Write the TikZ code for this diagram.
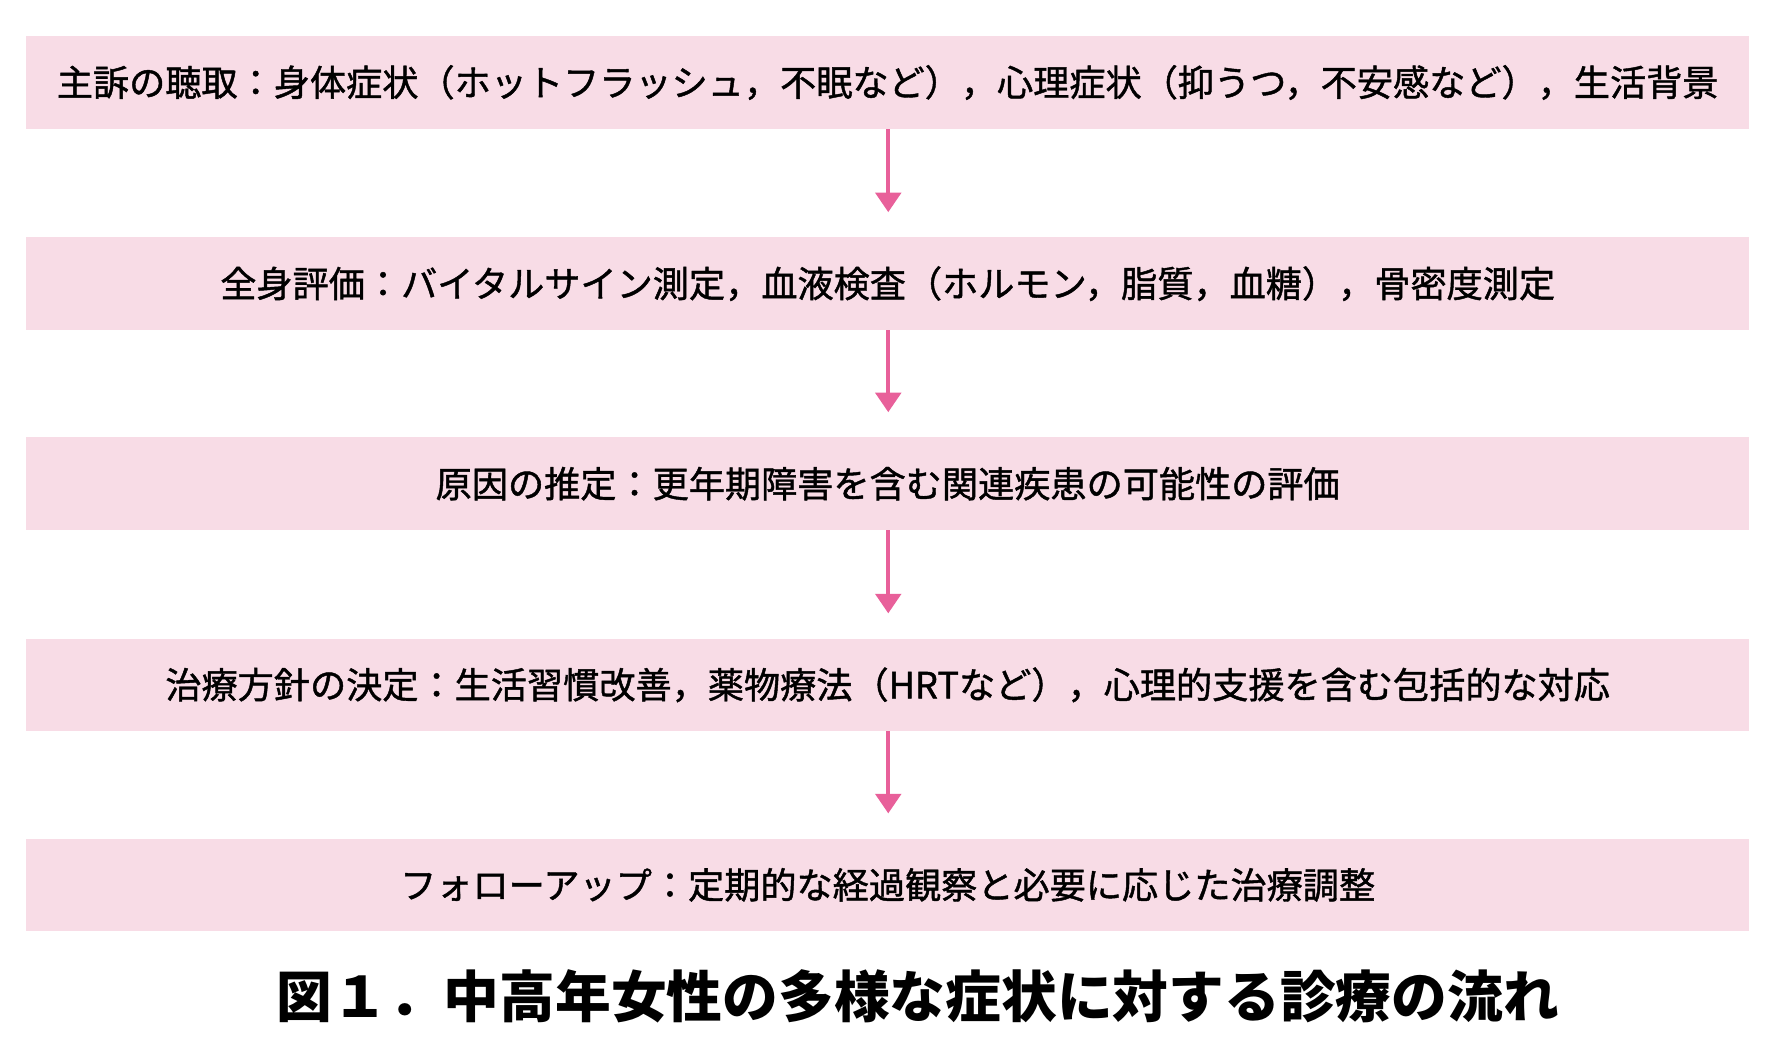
\documentclass[tikz,border=0pt]{standalone}
\usepackage{fontspec}
\setmainfont{Noto Sans CJK JP}
\newfontfamily\medfont[FakeBold=1.2]{Noto Sans CJK JP}
\begin{document}
\begin{tikzpicture}[x=0.75pt,y=-0.75pt,
 box/.style={fill=boxpink,minimum width=1525*0.75pt,minimum height=82*0.75pt,inner sep=0pt,font=\medfont\fontsize{24}{28}\selectfont},
 arr/.style={draw=arrpink,line width=2.5pt,-{Triangle[length=13pt,width=17pt]}}]
\usetikzlibrary{arrows.meta}
\definecolor{boxpink}{HTML}{F8DCE6}
\definecolor{arrpink}{HTML}{E8609A}
\useasboundingbox (0,0) rectangle (1568,940);
\node[box] (a) at (785.5,73) {主訴の聴取：身体症状（ホットフラッシュ，不眠など），心理症状（抑うつ，不安感など），生活背景};
\node[box] (b) at (785.5,251) {全身評価：バイタルサイン測定，血液検査（ホルモン，脂質，血糖），骨密度測定};
\node[box] (c) at (785.5,428) {原因の推定：更年期障害を含む関連疾患の可能性の評価};
\node[box] (d) at (785.5,606) {治療方針の決定：生活習慣改善，薬物療法（HRTなど），心理的支援を含む包括的な対応};
\node[box] (e) at (785.5,783) {フォローアップ：定期的な経過観察と必要に応じた治療調整};
\foreach \p/\q in {a/b,b/c,c/d,d/e}{
 \draw[arr] (\p.south -| 786,0) -- ([yshift=22*0.75pt]\q.north -| 786,0);
}
\node[font=\fontsize{37}{42}\selectfont\bfseries] (cap) at (812,882) {図１．中高年女性の多様な症状に対する診療の流れ};
\end{tikzpicture}
\end{document}
